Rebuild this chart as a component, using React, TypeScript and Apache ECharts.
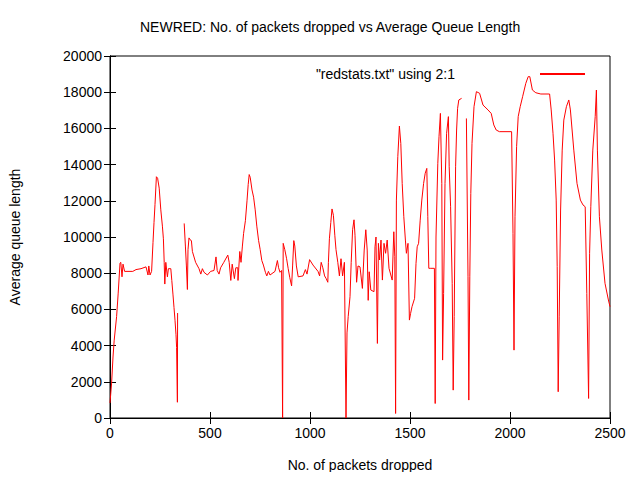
import React, { useEffect, useRef } from 'react';
import * as echarts from 'echarts';

// packets dropped (x) and average queue length (y); null marks a gap in the data
const dropped: number[] = [
  0, 8, 15, 21, 33, 41, 50, 54, 60, 65, 73, 114, 130, 155, 180, 190, 194, 200, 208, 215, 220, 225, 232, 238, 246, 254,
  262, 267, 271, 274, 279, 287, 292, 304, 309, 315, 320, 325, 330, 333, 337, 338, 355,
  371, 377, 382, 387, 390, 395, 400, 407, 412, 428, 445, 454, 462, 470, 487, 503, 520, 530, 536, 545, 553, 569, 589,
  596, 604, 611, 622, 629, 639, 640, 649, 655, 662, 668, 677, 685, 691, 696, 701, 710, 718, 726, 734, 743, 751, 759,
  767, 777, 784, 792, 800, 825, 837, 843, 850, 858, 863, 866, 874, 883, 891, 899, 908, 913, 919, 924, 932, 941, 965,
  977, 985, 998, 1015, 1040, 1048, 1056, 1064, 1073, 1081, 1089, 1092, 1097, 1104, 1110, 1117, 1124, 1130, 1139, 1147,
  1155, 1163, 1172, 1180, 1185, 1191, 1200, 1206, 1213, 1220, 1225, 1233, 1240, 1250, 1262, 1271, 1279, 1286, 1291,
  1296, 1304, 1320, 1325, 1330, 1337, 1342, 1348, 1355, 1362, 1370, 1378, 1386, 1395, 1411, 1419, 1424, 1428, 1432,
  1439, 1447, 1454, 1461, 1469, 1477, 1482, 1490, 1497, 1503, 1510, 1523, 1530, 1536, 1543, 1551, 1559, 1568, 1576,
  1584, 1589, 1594, 1601, 1622, 1626, 1630, 1639, 1645, 1652, 1659, 1663, 1668, 1675, 1683, 1692, 1696, 1703, 1711,
  1716, 1721, 1728, 1733, 1738, 1744, 1758, 1770,
  1782, 1790, 1794, 1799, 1804, 1810, 1820, 1832, 1848, 1865, 1890, 1906, 1919, 1931, 1947, 2008, 2015, 2020, 2025,
  2033, 2041, 2051, 2063, 2079, 2091, 2099, 2112, 2129, 2154, 2198, 2206, 2215, 2223, 2231, 2236, 2241, 2246, 2253,
  2261, 2269, 2282, 2294, 2302, 2319, 2335, 2352, 2365, 2376, 2384, 2393, 2398, 2404, 2414, 2426, 2432, 2437, 2447,
  2459, 2475, 2492, 2500,
];

const queueLength: (number | null)[] = [
  830, 1930, 3370, 4300, 5600, 6900, 8560, 8600, 7800, 8500, 8100, 8100, 8200, 8250, 8350, 7900, 8400, 7900, 8100, 9700,
  10800, 11800, 13330, 13250, 12700, 11500, 10600, 9900, 8600, 7400, 8600, 7800, 8250, 8250, 7600, 6800, 6100, 5400,
  4600, 3900, 870, 5800, null,
  10750, 9500, 8400, 7100, 9300, 9950, 9850, 9800, 9200, 8600, 8250, 7950, 8250, 8050, 7900, 8100, 8150, 8900, 8150,
  7950, 8300, 8600, 9000, 8600, 7600, 8500, 7700, 8300, 8300, 7600, 9200, 8600, 9500, 10200, 10900, 12000, 12900,
  13450, 13300, 12600, 12200, 11500, 10600, 9800, 9300, 8700, 8450, 8050, 7850, 8100, 7900, 8100, 8700, 8300, 8050,
  8150, 0, 9650, 9300, 8800, 8250, 7750, 7300, 8400, 9800, 9500, 8400, 7800, 7850, 8200, 7950, 8750, 8450, 8100, 7850,
  8600, 8300, 7850, 7700, 7500, 8600, 9900, 10800, 11550, 11200, 10100, 9300, 8600, 7850, 8800, 7850, 8600, 0, 4700,
  5600, 6700, 8600, 10400, 10950, 10100, 7500, 8400, 8350, 7160, 9280, 10400, 9280, 6500, 8080, 7070, 6980, 9460,
  10000, 4120, 9650, 8730, 9830, 7620, 9650, 9100, 9830, 8270, 7620, 10290, 8910, 250, 12040, 14440, 16130, 15170,
  12960, 11120, 9830, 9100, 9650, 5410, 5780, 6150, 6610, 8540, 9460, 9650, 10930, 12040, 12960, 13520, 13790, 11120,
  8270, 8270, 8270, 800, 10000, 14070, 15540, 16830, 12960, 3200, 6880, 12960, 15730, 16650, 13880, 11670, 7440, 1540,
  5600, 13880, 15910, 17110, 17570, 17660, null,
  16550, 7800, 990, 7800, 12410, 15170, 17200, 18030, 17940, 17290, 17020, 16830, 16190, 15910, 15820, 15820, 10200,
  3750, 11120, 14990, 16650, 17200, 17750, 18490, 18860, 18860, 18120, 17970, 17900, 17900, 17020, 15730, 14250,
  12040, 8360, 1450, 5590, 11490, 14800, 16460, 17200, 17570, 17020, 14800, 12960, 12040, 11770, 11670, 6880, 1080,
  9100, 11670, 14800, 16650, 18120, 14800, 11120, 9280, 7440, 6520, 6150,
];

const FONT = 'Liberation Sans, Arial, sans-serif';

const App: React.FC = () => {
  const chartRef = useRef<HTMLDivElement>(null);

  useEffect(() => {
    if (!chartRef.current) return;
    const chart = echarts.init(chartRef.current, undefined, { renderer: 'svg' });

    const tickStyle = { show: true, inside: true, length: 6, lineStyle: { color: '#000' } };
    const baseAxis = {
      type: 'value' as const,
      axisLine: { show: true, lineStyle: { color: '#000' } },
      axisTick: tickStyle,
      splitLine: { show: false },
    };
    const labelStyle = { fontFamily: FONT, fontSize: 14, color: '#000', margin: 8, formatter: (v: number) => String(v) };

    chart.setOption({
      animation: false,
      backgroundColor: '#fff',
      title: {
        text: 'NEWRED: No. of packets dropped vs Average Queue Length',
        left: 135,
        top: 15,
        textStyle: { fontFamily: FONT, fontSize: 14, fontWeight: 'normal', color: '#000' },
      },
      legend: {
        right: 50,
        top: 62,
        align: 'right',
        itemWidth: 45,
        itemHeight: 2,
        icon: 'rect',
        textStyle: { fontFamily: FONT, fontSize: 14, color: '#000', padding: [0, 80, 0, 0] },
        data: ['"redstats.txt" using 2:1'],
      },
      grid: { left: 105, right: 30, top: 56, bottom: 62, show: true, borderColor: '#000', borderWidth: 1 },
      xAxis: [
        {
          ...baseAxis,
          min: 0,
          max: 2500,
          interval: 500,
          name: 'No. of packets dropped',
          nameLocation: 'middle',
          nameGap: 40,
          nameTextStyle: { fontFamily: FONT, fontSize: 14, color: '#000' },
          axisLabel: labelStyle,
        },
        { ...baseAxis, position: 'top', min: 0, max: 2500, interval: 500, axisLabel: { show: false } },
      ],
      yAxis: [
        {
          ...baseAxis,
          min: 0,
          max: 20000,
          interval: 2000,
          name: 'Average queue length',
          nameLocation: 'middle',
          nameGap: 88,
          nameTextStyle: { fontFamily: FONT, fontSize: 14, color: '#000' },
          axisLabel: labelStyle,
        },
        { ...baseAxis, position: 'right', min: 0, max: 20000, interval: 2000, axisLabel: { show: false } },
      ],
      series: [
        {
          name: '"redstats.txt" using 2:1',
          type: 'line',
          showSymbol: false,
          symbol: 'none',
          connectNulls: false,
          lineStyle: { color: '#ff0000', width: 1 },
          itemStyle: { color: '#ff0000' },
          data: dropped.map((x, i) => [x, queueLength[i] === null ? '-' : queueLength[i]]),
        },
      ],
    });

    return () => {
      chart.dispose();
    };
  }, []);

  return <div ref={chartRef} style={{ width: 640, height: 480, margin: -8 }} />;
};

export default App;
